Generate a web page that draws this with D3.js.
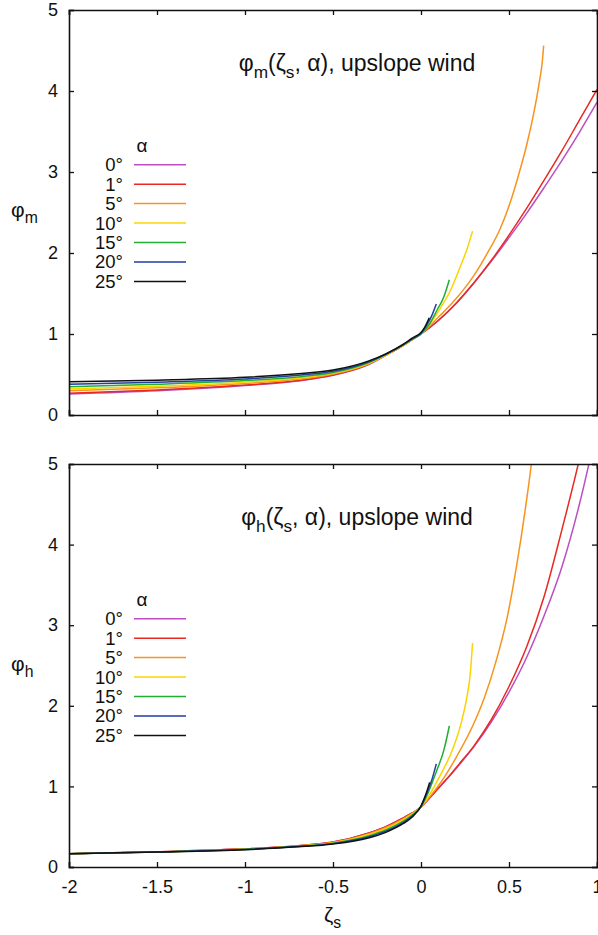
<!DOCTYPE html>
<html>
<head>
<meta charset="utf-8">
<title>phi curves</title>
<script src="https://cdn.jsdelivr.net/npm/d3@7"></script>
<style>
  body { margin: 0; background: #fff; }
  svg text { font-family: "Liberation Sans", Arial, Helvetica, sans-serif; fill: #111; }
</style>
</head>
<body>
<div id="chart"></div>
<script>
// ---- data ----
const alphas = ["0°", "1°", "5°", "10°", "15°", "20°", "25°"];
const colors = ["#bb4fc2", "#e62a22", "#f7941d", "#fbd400", "#21ae33", "#213f9c", "#111111"];
const xTicks = [-2, -1.5, -1, -0.5, 0, 0.5, 1];
const yTicks = [0, 1, 2, 3, 4, 5];

// unstable side (zeta <= 0), same zeta grid for every alpha
const zetaNeg = [-2, -1.5, -1, -0.7, -0.5, -0.3, -0.2, -0.1, -0.05, 0];
const phiMNeg = [
  [0.26, 0.30, 0.365, 0.42, 0.49, 0.62, 0.735, 0.86, 0.93, 1.0],
  [0.27, 0.31, 0.37, 0.425, 0.495, 0.625, 0.74, 0.86, 0.93, 1.0],
  [0.30, 0.335, 0.39, 0.44, 0.505, 0.63, 0.74, 0.86, 0.93, 1.0],
  [0.32, 0.355, 0.405, 0.455, 0.515, 0.635, 0.74, 0.86, 0.93, 1.0],
  [0.35, 0.38, 0.425, 0.47, 0.525, 0.645, 0.745, 0.865, 0.935, 1.0],
  [0.38, 0.405, 0.445, 0.49, 0.54, 0.655, 0.75, 0.87, 0.94, 1.01],
  [0.41, 0.43, 0.465, 0.51, 0.555, 0.665, 0.755, 0.875, 0.95, 1.02]
];
const phiHNeg = [
  [0.165, 0.19, 0.225, 0.265, 0.31, 0.42, 0.50, 0.61, 0.67, 0.745],
  [0.165, 0.19, 0.225, 0.265, 0.31, 0.42, 0.50, 0.61, 0.67, 0.745],
  [0.165, 0.19, 0.223, 0.262, 0.305, 0.41, 0.49, 0.60, 0.665, 0.745],
  [0.165, 0.188, 0.221, 0.259, 0.30, 0.40, 0.475, 0.585, 0.655, 0.745],
  [0.165, 0.187, 0.219, 0.256, 0.295, 0.385, 0.46, 0.57, 0.645, 0.745],
  [0.165, 0.186, 0.217, 0.253, 0.29, 0.372, 0.445, 0.555, 0.633, 0.75],
  [0.165, 0.185, 0.215, 0.25, 0.285, 0.36, 0.43, 0.54, 0.62, 0.76]
];

// stable side (zeta >= 0), [zeta, phi] pairs
const phiMPos = [
  [[0, 1], [0.1, 1.17], [0.2, 1.38], [0.3, 1.63], [0.4, 1.9], [0.5, 2.19], [0.6, 2.49], [0.7, 2.81], [0.8, 3.14], [0.9, 3.49], [1.0, 3.86]],
  [[0, 1], [0.1, 1.17], [0.2, 1.38], [0.3, 1.63], [0.4, 1.91], [0.5, 2.22], [0.6, 2.55], [0.7, 2.9], [0.8, 3.26], [0.9, 3.64], [1.0, 4.02]],
  [[0, 1], [0.1, 1.21], [0.185, 1.4], [0.3, 1.72], [0.375, 1.99], [0.45, 2.3], [0.5, 2.58], [0.55, 2.93], [0.6, 3.33], [0.64, 3.72], [0.67, 4.08], [0.69, 4.38], [0.697, 4.56]],
  [[0, 1], [0.05, 1.12], [0.11, 1.32], [0.17, 1.55], [0.223, 1.83], [0.26, 2.04], [0.293, 2.27]],
  [[0, 1], [0.05, 1.13], [0.09, 1.29], [0.13, 1.46], [0.161, 1.67]],
  [[0, 1.01], [0.03, 1.1], [0.06, 1.22], [0.087, 1.37]],
  [[0, 1.02], [0.02, 1.08], [0.047, 1.2]]
];
const phiHPos = [
  [[0, 0.745], [0.05, 0.86], [0.1, 0.98], [0.15, 1.1], [0.214, 1.26], [0.3, 1.49], [0.4, 1.8], [0.5, 2.17], [0.6, 2.6], [0.7, 3.12], [0.8, 3.72], [0.9, 4.5], [0.952, 4.98], [0.99, 5.35]],
  [[0, 0.745], [0.05, 0.86], [0.1, 0.98], [0.15, 1.1], [0.214, 1.27], [0.3, 1.5], [0.4, 1.83], [0.5, 2.24], [0.6, 2.73], [0.7, 3.36], [0.8, 4.18], [0.9, 5.06], [0.94, 5.45]],
  [[0, 0.745], [0.05, 0.87], [0.119, 1.07], [0.2, 1.36], [0.3, 1.78], [0.36, 2.1], [0.422, 2.52], [0.49, 3.1], [0.545, 3.76], [0.59, 4.4], [0.627, 5.0], [0.645, 5.35]],
  [[0, 0.745], [0.05, 0.9], [0.1, 1.1], [0.185, 1.49], [0.23, 1.8], [0.26, 2.1], [0.28, 2.4], [0.293, 2.78]],
  [[0, 0.745], [0.04, 0.92], [0.09, 1.2], [0.13, 1.45], [0.161, 1.75]],
  [[0, 0.75], [0.03, 0.9], [0.06, 1.07], [0.087, 1.28]],
  [[0, 0.76], [0.02, 0.86], [0.035, 0.95], [0.049, 1.05]]
];

// ---- layout ----
const W = 598, H = 935;
const left = 69, right = 597;
const panels = [
  { top: 10, bottom: 415, neg: phiMNeg, pos: phiMPos, sub: "m" },
  { top: 464, bottom: 867, neg: phiHNeg, pos: phiHPos, sub: "h" }
];

const svg = d3.select("#chart").append("svg")
  .attr("width", W).attr("height", H);

const x = d3.scaleLinear().domain([-2, 1]).range([left, right]);

// text with subscripts: parts = [[text, isSub], ...]
function richText(g, parts, px, py, size, anchor) {
  const t = g.append("text").attr("x", px).attr("y", py)
    .attr("font-size", size).attr("text-anchor", anchor || "start");
  let down = false;
  parts.forEach(([s, sub]) => {
    const ts = t.append("tspan").text(s);
    if (sub && !down) { ts.attr("dy", size * 0.3).attr("font-size", size * 0.75); down = true; }
    else if (sub) { ts.attr("font-size", size * 0.75); }
    else if (down) { ts.attr("dy", -size * 0.3); down = false; }
  });
  return t;
}

const plain = d => String(d);  // keep ascii hyphen like the original

panels.forEach((p, pi) => {
  const y = d3.scaleLinear().domain([0, 5]).range([p.bottom, p.top]);
  const g = svg.append("g");

  g.append("clipPath").attr("id", "clip" + pi)
    .append("rect").attr("x", left).attr("y", p.top)
    .attr("width", right - left).attr("height", p.bottom - p.top);

  const line = d3.line()
    .x(d => x(d[0])).y(d => y(d[1]))
    .curve(d3.curveMonotoneX);

  const series = alphas.map((a, i) =>
    zetaNeg.map((z, j) => [z, p.neg[i][j]]).concat(p.pos[i].slice(1)));

  g.append("g").attr("clip-path", `url(#clip${pi})`)
    .selectAll("path").data(series).join("path")
    .attr("d", line)
    .attr("fill", "none")
    .attr("stroke", (d, i) => colors[i])
    .attr("stroke-width", 1.5);

  // axes, ticks inward and mirrored
  const axB = d3.axisBottom(x).tickValues(xTicks).tickSize(-5).tickPadding(13)
    .tickFormat(pi === 1 ? plain : "");
  const axT = d3.axisTop(x).tickValues(xTicks).tickSize(-5).tickFormat("");
  const axL = d3.axisLeft(y).tickValues(yTicks).tickSize(-5).tickPadding(11).tickFormat(plain);
  const axR = d3.axisRight(y).tickValues(yTicks).tickSize(-5).tickFormat("");

  g.append("g").attr("transform", `translate(0,${p.bottom})`).call(axB);
  g.append("g").attr("transform", `translate(0,${p.top})`).call(axT);
  g.append("g").attr("transform", `translate(${left},0)`).call(axL);
  g.append("g").attr("transform", `translate(${right},0)`).call(axR);

  g.selectAll(".domain").attr("stroke", "#111").attr("stroke-width", 1.6);
  g.selectAll(".tick line").attr("stroke", "#111").attr("stroke-width", 1.3);
  g.selectAll(".tick text").attr("font-size", 18).attr("fill", "#111")
    .attr("font-family", "Liberation Sans, Arial, sans-serif");

  // title
  richText(g, [["φ", false], [p.sub, true], ["(ζ", false], ["s", true], [", α), upslope wind", false]],
    357, p.top + 61, 23, "middle");

  // y label
  richText(g, [["φ", false], [p.sub, true]], 11, p.top + 207, 21);

  // legend
  const lg = g.append("g");
  lg.append("text").attr("x", 142).attr("y", p.top + 142)
    .attr("font-size", 19).attr("text-anchor", "middle").text("α");
  alphas.forEach((a, i) => {
    const ry = p.top + 154.7 + i * 19.45;
    lg.append("text").attr("x", 123).attr("y", ry + 6.5)
      .attr("font-size", 18.5).attr("text-anchor", "end").text(a);
    lg.append("line").attr("x1", 134).attr("x2", 186)
      .attr("y1", ry).attr("y2", ry)
      .attr("stroke", colors[i]).attr("stroke-width", 1.5);
  });
});

// x label
richText(svg, [["ζ", false], ["s", true]], 324, 922, 21);
</script>
</body>
</html>
